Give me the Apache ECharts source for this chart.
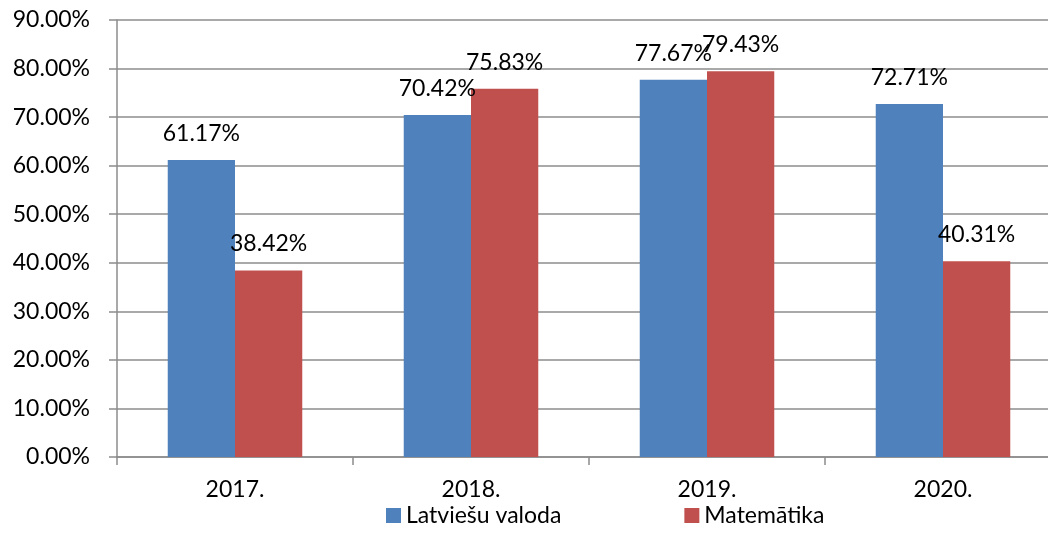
<!DOCTYPE html>
<html>
<head>
<meta charset="utf-8">
<script src="https://cdn.jsdelivr.net/npm/echarts@6/dist/echarts.min.js"></script>
<style>
  html, body { margin: 0; padding: 0; background: #fff; overflow: hidden; }
  #main { width: 1061px; height: 534px; }
</style>
</head>
<body>
<div id="main"></div>
<script>
// dati
var years = ['2017.', '2018.', '2019.', '2020.'];
var latviesu = [61.17, 70.42, 77.67, 72.71];
var matematika = [38.42, 75.83, 79.43, 40.31];
var seriesNames = ['Latviešu valoda', 'Matemātika'];

var chart = echarts.init(document.getElementById('main'));
var fontFam = 'Lato, "Open Sans", sans-serif';
var fs = 23;
var gridColor = '#8c8c8c';

function pct(v) {
  return v.toFixed(2) + '%';
}

// plot area runs a bit past the right edge of the window, as in the original
var option = {
  animation: false,
  textStyle: { fontFamily: fontFam },
  grid: {
    left: 117,
    right: 0,
    top: 20,
    bottom: 77
  },
  legend: {
    bottom: 2,
    left: 381,
    itemWidth: 15,
    itemHeight: 15,
    itemGap: 123,
    icon: 'rect',
    textStyle: { fontSize: fs, color: '#000', fontFamily: fontFam },
    data: seriesNames
  },
  xAxis: {
    type: 'category',
    data: years,
    axisLine: { lineStyle: { color: gridColor, width: 1.5 } },
    axisTick: { show: true, length: 8, lineStyle: { color: gridColor, width: 1.5 } },
    axisLabel: { fontSize: fs, color: '#000', margin: 21 }
  },
  yAxis: {
    type: 'value',
    min: 0,
    max: 90,
    interval: 10,
    axisLine: { show: true, lineStyle: { color: gridColor, width: 1.5 } },
    axisTick: { show: true, length: 8, lineStyle: { color: gridColor, width: 1.5 } },
    splitLine: { lineStyle: { color: gridColor, width: 1.5 } },
    axisLabel: {
      fontSize: fs,
      color: '#000',
      margin: 27,
      formatter: function (v) { return pct(v); }
    }
  },
  series: [{
    name: seriesNames[0],
    type: 'bar',
    data: latviesu,
    barGap: '0%',
    barCategoryGap: '43%',
    itemStyle: { color: '#4F81BD' },
    label: {
      show: true,
      position: 'top',
      distance: 15,
      fontSize: fs,
      color: '#000',
      formatter: function (p) { return pct(p.value); }
    }
  }, {
    name: seriesNames[1],
    type: 'bar',
    data: matematika,
    barGap: '0%',
    barCategoryGap: '43%',
    itemStyle: { color: '#C0504D' },
    label: {
      show: true,
      position: 'top',
      distance: 15,
      fontSize: fs,
      color: '#000',
      formatter: function (p) { return pct(p.value); }
    }
  }]
};

chart.setOption(option);
</script>
</body>
</html>
